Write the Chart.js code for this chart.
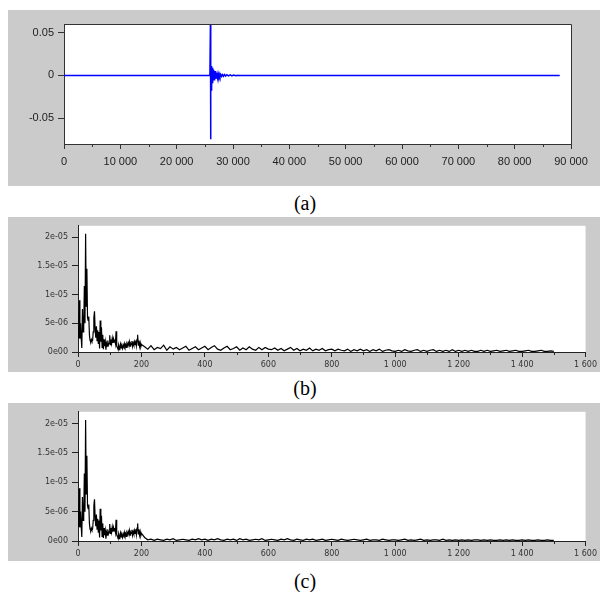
<!DOCTYPE html>
<html lang="en">
<head>
  <meta charset="UTF-8">
  <title>Signal and spectra</title>
  <script src="https://cdn.jsdelivr.net/npm/chart.js@4.4.4/dist/chart.umd.min.js"></script>
  <style>
    body { margin: 0; width: 600px; height: 592px; background: #fff; position: relative; overflow: hidden; }
    .panel { position: absolute; left: 8px; width: 592px; background: #cbcbcb; }
    .panel canvas { display: block; }
    .cap { position: absolute; left: 255px; width: 100px; text-align: center; font: 20px 'Liberation Serif', serif; line-height: 22px; color: #000; }
  </style>
</head>
<body>
  <div class="panel" style="top:10px;height:176px"><canvas id="sig" width="592" height="176"></canvas></div>
  <div class="cap" style="top:192px">(a)</div>
  <div class="panel" style="top:217px;height:155px"><canvas id="specB" width="592" height="155"></canvas></div>
  <div class="cap" style="top:377px">(b)</div>
  <div class="panel" style="top:403px;height:158px"><canvas id="specC" width="592" height="158"></canvas></div>
  <div class="cap" style="top:570px">(c)</div>

  <script>
    // (a) time signal: sample index / amplitude
    const sigX = [0, 25900, 26000, 26010, 26030, 26060, 26090, 26120, 26150, 26180, 26220, 26260, 26300, 26340,
      26380, 26430, 26480, 26530, 26580, 26640, 26700, 26760, 26830, 26900, 26980, 27060, 27150, 27240, 27340,
      27450, 27560, 27680, 27800, 27950, 28100, 28300, 28500, 28700, 28900, 29200, 29500, 29800, 30100, 30500,
      30900, 31000, 88000];
    const sigY = [0, 0, 0.065, -0.0746, 0.008, -0.012, 0.0125, -0.017, 0.010, -0.010, 0.011, -0.013, 0.009, -0.008,
      0.008, -0.009, 0.006, -0.006, 0.007, -0.005, 0.005, -0.004, 0.005, -0.004, 0.003, -0.003, 0.003, -0.002, 0.002,
      -0.002, 0.0015, -0.0015, 0.0012, -0.0012, 0.001, -0.001, 0.001, -0.0008, 0.0008, -0.0006, 0.0006, -0.0005, 0.0005, -0.0004,
      0.0003, 0, 0];
    const sigTicksX = [0, 10000, 20000, 30000, 40000, 50000, 60000, 70000, 80000, 90000];
    const sigTickLabelsX = ['0', '10 000', '20 000', '30 000', '40 000', '50 000', '60 000', '70 000', '80 000', '90 000'];
    const sigMinorX = [5000, 15000, 25000, 35000, 45000, 55000, 65000, 75000, 85000];
    const sigTicksY = [-0.05, 0, 0.05];
    const sigTickLabelsY = ['-0.05', '0', '0.05'];

    // (b), (c) spectra, amplitudes in units of 1e-6
    const lowStep = 2;    // bins 0..200
    const lowBand = [2.5, 4.0, 9.0, 2.3, 5.0, 2.5, 0.7, 7.5, 3.5, 4.2, 11.5, 5.0, 20.6, 8.0, 14.5, 6.0, 5.5, 6.2, 3.0, 2.0,
      1.8, 2.2, 1.9, 2.0, 3.5, 6.0, 7.1, 4.0, 2.5, 4.5, 2.0, 3.8, 1.5, 3.5, 0.6, 5.5, 1.8, 4.3, 0.8, 3.0,
      0.5, 2.2, 1.0, 1.8, 0.4, 1.5, 1.0, 2.0, 1.2, 1.5, 2.9, 1.3, 2.2, 1.5, 2.4, 1.6, 2.3, 1.7, 2.2, 1.5,
      3.6, 1.0, 0.8, 0.5, 1.2, 0.4, 0.9, 1.4, 0.7, 1.0, 0.6, 1.2, 0.9, 1.5, 1.0, 1.3, 0.8, 1.4, 1.1, 1.6,
      1.2, 1.8, 1.0, 1.5, 1.3, 1.9, 1.0, 1.6, 1.2, 1.8, 1.3, 2.0, 1.1, 2.2, 3.0, 1.2, 2.0, 1.0, 1.6, 0.9, 1.3];
    const tailStart = 210, tailStep = 10;   // bins 210..1500
    const tailB = [0.9, 0.5, 1.1, 0.4, 0.8, 0.6, 1.2, 0.3, 0.9, 0.5, 0.8, 0.4, 0.7, 1.0, 0.3, 0.6, 0.9, 0.4, 0.7, 1.0,
      0.4, 0.8, 1.1, 0.5, 0.3, 0.7, 1.0, 0.4, 0.6, 0.9, 0.3, 0.7, 0.4, 0.9, 0.5, 0.3, 0.8, 0.4, 0.8, 0.5,
      0.4, 0.7, 0.3, 0.6, 0.2, 0.5, 0.8, 0.3, 0.6, 0.2, 0.5, 0.3, 0.7, 0.2, 0.5, 0.3, 0.6, 0.2, 0.4, 0.5,
      0.2, 0.5, 0.3, 0.2, 0.5, 0.1, 0.4, 0.2, 0.5, 0.2, 0.4, 0.1, 0.4, 0.2, 0.5, 0.1, 0.3, 0.4, 0.2, 0.1,
      0.3, 0.1, 0.4, 0.2, 0.1, 0.3, 0.4, 0.1, 0.3, 0.1, 0.3, 0.4, 0.1, 0.3, 0.1, 0.3, 0.1, 0.4, 0.1, 0.3,
      0.1, 0.3, 0.1, 0.3, 0.1, 0.1, 0.3, 0.1, 0.3, 0.1, 0.2, 0.3, 0.1, 0.2, 0.3, 0.1, 0.2, 0.3, 0.1, 0.1,
      0.2, 0.3, 0.1, 0.1, 0.2, 0.3, 0.1, 0.1, 0.2, 0.1];
    const tailC = [0.6, 0.2, 0.3, 0.1, 0.3, 0.2, 0.1, 0.3, 0.2, 0.4, 0.1, 0.2, 0.3, 0.2, 0.1, 0.3, 0.2, 0.4, 0.2, 0.3,
      0.1, 0.3, 0.2, 0.4, 0.2, 0.1, 0.3, 0.2, 0.3, 0.1, 0.4, 0.2, 0.3, 0.1, 0.2, 0.3, 0.2, 0.4, 0.1, 0.2,
      0.3, 0.2, 0.1, 0.3, 0.2, 0.4, 0.2, 0.1, 0.3, 0.2, 0.1, 0.3, 0.2, 0.3, 0.1, 0.2, 0.3, 0.1, 0.2, 0.3,
      0.2, 0.1, 0.3, 0.2, 0.1, 0.2, 0.3, 0.2, 0.1, 0.2, 0.3, 0.1, 0.2, 0.2, 0.1, 0.3, 0.2, 0.1, 0.2, 0.2,
      0.1, 0.2, 0.3, 0.1, 0.2, 0.1, 0.2, 0.3, 0.1, 0.2, 0.1, 0.2, 0.2, 0.1, 0.3, 0.1, 0.2, 0.1, 0.2, 0.1,
      0.2, 0.1, 0.2, 0.1, 0.2, 0.2, 0.1, 0.2, 0.1, 0.2, 0.1, 0.1, 0.2, 0.1, 0.2, 0.1, 0.2, 0.1, 0.1, 0.2,
      0.1, 0.2, 0.1, 0.1, 0.2, 0.1, 0.1, 0.2, 0.1, 0.1];
    const specTicksX = [0, 200, 400, 600, 800, 1000, 1200, 1400, 1600];
    const specTickLabelsX = ['0', '200', '400', '600', '800', '1 000', '1 200', '1 400', '1 600'];
    const specMinorX = [100, 300, 500, 700, 900, 1100, 1300, 1500];
    const specTicksY = [0, 5e-6, 1e-5, 1.5e-5, 2e-5];
    const specTickLabelsY = ['0e00', '5e-06', '1e-05', '1.5e-05', '2e-05'];

    const toPoints = (xs, ys) => xs.map((x, i) => ({ x, y: ys[i] }));
    const spectrum = (tail) => [
      ...lowBand.map((v, i) => ({ x: i * lowStep, y: v * 1e-6 })),
      ...tail.map((v, i) => ({ x: tailStart + i * tailStep, y: v * 1e-6 }))
    ];

    // white plot area, optional box frame, minor x ticks
    const panelPlugin = {
      id: 'panel',
      beforeDraw(chart) {
        const a = chart.chartArea, ctx = chart.ctx;
        ctx.save();
        ctx.fillStyle = '#fff';
        ctx.fillRect(a.left, a.top, a.right - a.left, a.bottom - a.top);
        ctx.restore();
      },
      afterDraw(chart, args, o) {
        const a = chart.chartArea, ctx = chart.ctx, xs = chart.scales.x;
        ctx.save();
        ctx.strokeStyle = o.color;
        ctx.lineWidth = 1;
        if (o.frame) {
          ctx.beginPath();
          ctx.moveTo(a.left, a.top + 0.5);
          ctx.lineTo(a.right + 0.5, a.top + 0.5);
          ctx.lineTo(a.right + 0.5, a.bottom);
          ctx.stroke();
        }
        ctx.beginPath();
        (o.minor || []).forEach(v => {
          const px = Math.round(xs.getPixelForValue(v)) + 0.5;
          ctx.moveTo(px, a.bottom);
          ctx.lineTo(px, a.bottom + o.minorLen);
        });
        ctx.stroke();
        ctx.restore();
      }
    };

    const makeChart = (id, data, cfg) => new Chart(document.getElementById(id), {
      type: 'line',
      data: {
        datasets: [{
          data,
          borderColor: cfg.lineColor,
          borderWidth: cfg.lineWidth,
          pointRadius: 0,
          tension: 0,
          fill: false
        }]
      },
      options: {
        responsive: false,
        animation: false,
        events: [],
        layout: { padding: cfg.padding },
        plugins: {
          legend: { display: false },
          tooltip: { enabled: false },
          panel: { frame: cfg.frame, minor: cfg.minorX, minorLen: cfg.minorLen, color: cfg.axisColor }
        },
        scales: {
          x: {
            type: 'linear',
            min: cfg.xMin, max: cfg.xMax,
            afterBuildTicks: s => { s.ticks = cfg.ticksX.map(value => ({ value })); },
            afterFit: s => { s.height = cfg.xHeight; },
            grid: { drawOnChartArea: false, tickLength: cfg.xTickLen, tickColor: cfg.axisColor },
            border: { color: cfg.axisColor },
            ticks: {
              autoSkip: false, maxRotation: 0, padding: cfg.xPad,
              color: cfg.textColor, font: cfg.font,
              callback: (v, i) => cfg.labelsX[i]
            }
          },
          y: {
            type: 'linear',
            min: cfg.yMin, max: cfg.yMax,
            afterBuildTicks: s => { s.ticks = cfg.ticksY.map(value => ({ value })); },
            afterFit: s => { s.width = cfg.yWidth; },
            grid: { drawOnChartArea: false, tickLength: cfg.yTickLen, tickColor: cfg.axisColor },
            border: { color: cfg.axisColor },
            ticks: {
              autoSkip: false, padding: cfg.yPad,
              color: cfg.textColor, font: cfg.font,
              callback: (v, i) => cfg.labelsY[i]
            }
          }
        }
      },
      plugins: [panelPlugin]
    });

    makeChart('sig', toPoints(sigX, sigY), {
      lineColor: '#0000ff', lineWidth: 1.5, axisColor: '#333', textColor: '#222',
      font: { family: "'Liberation Sans', Arial, sans-serif", size: 11 },
      padding: { top: 14, right: 29, left: 0, bottom: 0 },
      xMin: 0, xMax: 90000, yMin: -0.08, yMax: 0.06,
      ticksX: sigTicksX, labelsX: sigTickLabelsX, minorX: sigMinorX, minorLen: 3,
      ticksY: sigTicksY, labelsY: sigTickLabelsY,
      xHeight: 42, yWidth: 56, xTickLen: 5, yTickLen: 6, xPad: 6, yPad: 4, frame: true
    });

    const specCfg = (top) => ({
      lineColor: '#000', lineWidth: 1.2, axisColor: '#222', textColor: '#333',
      font: { family: "'DejaVu Sans', sans-serif", size: 8 },
      padding: { top, right: 14, left: 0, bottom: 0 },
      xMin: 0, xMax: 1600, yMin: 0, yMax: 2.2e-5,
      ticksX: specTicksX, labelsX: specTickLabelsX, minorX: specMinorX, minorLen: 3,
      ticksY: specTicksY, labelsY: specTickLabelsY,
      xHeight: 20, yWidth: 70, xTickLen: 5, yTickLen: 6, xPad: 3, yPad: 4, frame: false
    });

    makeChart('specB', spectrum(tailB), specCfg(6));
    makeChart('specC', spectrum(tailC), specCfg(7));
  </script>
</body>
</html>
